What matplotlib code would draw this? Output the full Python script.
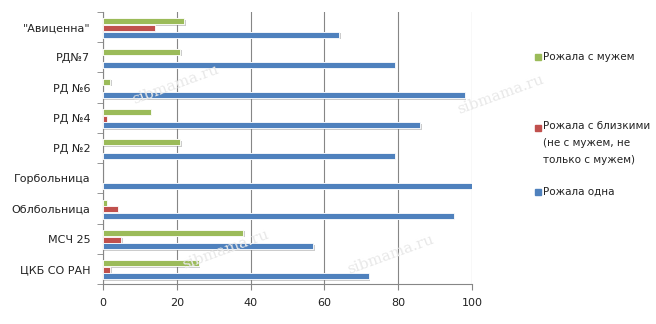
import numpy as np
import matplotlib
matplotlib.use('Agg')
import matplotlib.pyplot as plt
from matplotlib.patches import Rectangle
import matplotlib.patheffects as pe

plt.rcParams['font.family'] = ['DejaVu Sans']

categories = ['"Авиценна"', 'РД№7', 'РД №6', 'РД №4', 'РД №2',
              'Горбольница', 'Облбольница', 'МСЧ 25', 'ЦКБ СО РАН']
with_husband = [22, 21, 2, 13, 21, 0, 1, 38, 26]
with_relatives = [14, 0, 0, 1, 0, 0, 4, 5, 2]
alone = [64, 79, 98, 86, 79, 100, 95, 57, 72]

labels = ['Рожала с мужем',
          'Рожала с близкими\n(не с мужем, не\nтолько с мужем)',
          'Рожала одна']
colors = ['#9BBB59', '#C0504D', '#4F81BD']

fig = plt.figure(figsize=(6.56, 3.24), dpi=100)
ax = fig.add_axes([0.157, 0.1235, 0.5625, 0.8395])

y = np.arange(len(categories))
h = 0.2
step = 0.22
shadow = [pe.withSimplePatchShadow(offset=(1, -1), shadow_rgbFace='gray', alpha=0.4), pe.Normal()]
for vals, off, c in zip([with_husband, with_relatives, alone], [-step, 0, step], colors):
    vals = np.array(vals)
    yy = (y + off + 0.03)[vals > 0]
    ax.barh(yy, vals[vals > 0], height=h, color=c, edgecolor='white', linewidth=0.6,
            path_effects=shadow, zorder=3)

ax.set_xlim(0, 100)
ax.set_ylim(len(categories) - 0.5, -0.5)
ax.set_xticks([0, 20, 40, 60, 80, 100])
ax.set_yticks(y)
ax.set_yticklabels(categories)
ax.set_yticks(np.arange(len(categories) + 1) - 0.5, minor=True)
ax.tick_params(axis='y', which='major', length=0, pad=9, labelsize=8, labelcolor='#222222')
ax.tick_params(axis='y', which='minor', length=4, color='#868686', direction='out')
ax.tick_params(axis='x', length=4, color='#868686', direction='out', pad=6, labelsize=8,
               labelcolor='#222222')
ax.grid(axis='x', color='#868686', linewidth=0.8, zorder=0)
for s in ['top', 'right']:
    ax.spines[s].set_visible(False)
for s in ['left', 'bottom']:
    ax.spines[s].set_color('#868686')

# legend
leg_y = [57, 121, 192]
for lab, c, yy in zip(labels, colors, leg_y):
    fy = 1 - yy / 324
    multi = '\n' in lab
    sq_y = 1 - (128 if multi else yy) / 324
    fig.patches.append(Rectangle((535 / 656, sq_y - 3 / 324), 6 / 656, 6 / 324,
                                 transform=fig.transFigure, color=c))
    fig.text(543 / 656, fy, lab, fontsize=7.5, va='top' if multi else 'center',
             ha='left', linespacing=1.9, color='#222222')

for (xx, yy, rot) in [(130, 85, 20), (455, 95, 20), (345, 255, 20), (180, 250, 20)]:
    fig.text(xx / 656, 1 - yy / 324, 'sibmama.ru', fontsize=11, color='#e8e8e8',
             rotation=rot, family='DejaVu Serif', ha='left', va='center', zorder=0)

fig.savefig('out.png', dpi=100)
